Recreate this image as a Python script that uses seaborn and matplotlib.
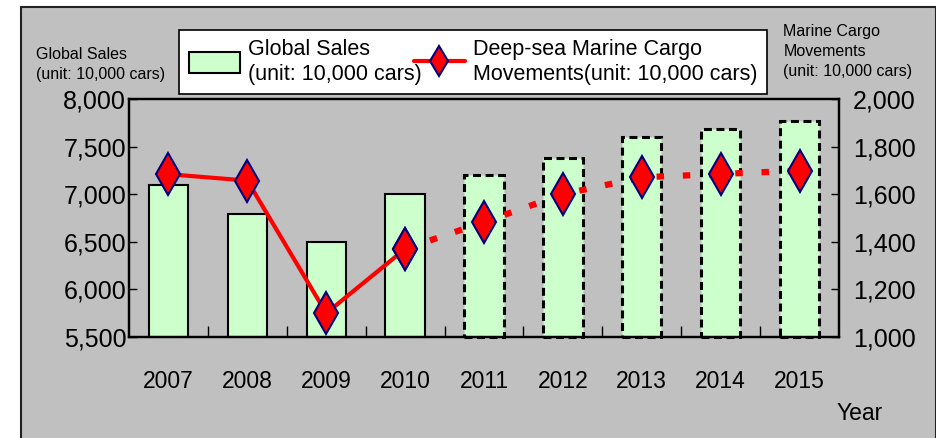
import numpy as np
import pandas as pd
import matplotlib.pyplot as plt
import seaborn as sns
from matplotlib.patches import Patch, Rectangle
from matplotlib.lines import Line2D
from matplotlib.ticker import FuncFormatter

# Chart data
years = ["2007", "2008", "2009", "2010", "2011", "2012", "2013", "2014", "2015"]
global_sales = [7100, 6790, 6500, 7000, 7200, 7380, 7600, 7690, 7770]
cargo_moves = [1684, 1657, 1100, 1370, 1483, 1600, 1671, 1685, 1699]
last_actual_year = "2010"   # later years are forecasts (dashed)

sales_ticks = [5500, 6000, 6500, 7000, 7500, 8000]
cargo_ticks = [1000, 1200, 1400, 1600, 1800, 2000]

BG = "#C0C0C0"
BAR_GREEN = "#CCFFCC"
RED = "#FF0000"
NAVY = "#000080"

sns.set_style("ticks")
plt.rcParams["font.family"] = ["Liberation Sans", "DejaVu Sans"]
plt.rcParams.update({"text.color": "black", "xtick.color": "black",
                     "ytick.color": "black", "axes.labelcolor": "black"})

df = pd.DataFrame({"year": years, "sales": global_sales, "cargo": cargo_moves})
df["pos"] = np.arange(len(df))
n_actual = years.index(last_actual_year) + 1
forecast = df["pos"] >= n_actual

fig = plt.figure(figsize=(9.37, 4.38), dpi=100)
fig.patch.set_facecolor("white")
fig.add_artist(Rectangle((0.0224, -0.05), 0.976, 1.034, transform=fig.transFigure,
                         facecolor=BG, edgecolor="#222222", linewidth=1.5, zorder=-1))

ax = fig.add_axes([0.1377, 0.2306, 0.7577, 0.5434])
ax.set_facecolor("none")

# === BARS: global sales ===
sns.barplot(data=df, x="year", y="sales", ax=ax, color=BAR_GREEN, saturation=1,
            width=0.5, edgecolor="black", linewidth=1.5)
for p, is_fc in zip(ax.patches, forecast):
    top = p.get_height()
    p.set_y(sales_ticks[0])
    p.set_height(top - sales_ticks[0])
    p.set_clip_on(False)
    if is_fc:
        p.set_linestyle((0, (2.6, 1.5)))
        p.set_linewidth(2.2)

ax.set_ylim(sales_ticks[0], sales_ticks[-1])
ax.set_xlim(-0.5, len(years) - 0.5)
ax.set_yticks(sales_ticks)
ax.yaxis.set_major_formatter(FuncFormatter(lambda v, _: f"{v:,.0f}"))
ax.set_xticks(df["pos"])
ax.set_xticklabels(years)
ax.set_xticks(df["pos"][:-1] + 0.5, minor=True)
ax.tick_params(axis="x", which="major", length=0, pad=24, labelsize=16.5)
ax.tick_params(axis="x", which="minor", direction="in", length=8, width=1)
ax.tick_params(axis="y", direction="in", length=6, width=1, pad=2, labelsize=18)
ax.set_xlabel("")
ax.set_ylabel("")

# === LINE: deep-sea marine cargo movements ===
ax2 = ax.twinx()
line_style = dict(color=RED, marker="d", markersize=21, markerfacecolor=RED,
                  markeredgecolor=NAVY, markeredgewidth=1.5)
fc = df[df["pos"] >= n_actual - 1]
act = df[df["pos"] < n_actual]
sns.lineplot(x=fc["pos"], y=fc["cargo"], ax=ax2, linewidth=4.5,
             linestyle=(0, (1.2, 3)), **line_style)
sns.lineplot(x=act["pos"], y=act["cargo"], ax=ax2, linewidth=3, **line_style)
ax2.set_ylim(cargo_ticks[0], cargo_ticks[-1])
ax2.set_yticks(cargo_ticks)
ax2.yaxis.set_major_formatter(FuncFormatter(lambda v, _: f"{v:,.0f}"))
ax2.tick_params(axis="y", direction="in", length=6, width=1, pad=10, labelsize=18)
ax2.set_xlabel("")
ax2.set_ylabel("")

for a in (ax, ax2):
    for side in a.spines.values():
        side.set_color("black")
        side.set_linewidth(1.6)

# === AXIS TITLES AND LEGEND ===
fig.text(0.0384, 0.893, "Global Sales\n(unit: 10,000 cars)", fontsize=11.5,
         ha="left", va="top", linespacing=1.4)
fig.text(0.836, 0.945, "Marine Cargo\nMovements\n(unit: 10,000 cars)", fontsize=11.5,
         ha="left", va="top", linespacing=1.4)
fig.text(0.917, 0.03, "Year", fontsize=16.5, ha="center", va="bottom")

handles = [
    Patch(facecolor=BAR_GREEN, edgecolor="black", linewidth=1.5),
    Line2D([], [], color=RED, linewidth=3, marker="d", markersize=15,
           markerfacecolor=RED, markeredgecolor=NAVY, markeredgewidth=1.5),
]
labels = ["Global Sales\n(unit: 10,000 cars)",
          "Deep-sea Marine Cargo\nMovements(unit: 10,000 cars)"]
leg = fig.legend(handles, labels, loc="center", bbox_to_anchor=(0.191, 0.781, 0.6276, 0.155),
                 ncol=2, mode="expand", fontsize=15.5, fancybox=False, framealpha=1,
                 edgecolor="black", borderpad=0.45, handlelength=2.4, handleheight=1.1,
                 handletextpad=0.35, borderaxespad=0)
leg.get_frame().set_linewidth(1.2)

fig.savefig("out.png", dpi=100, facecolor=fig.get_facecolor())
